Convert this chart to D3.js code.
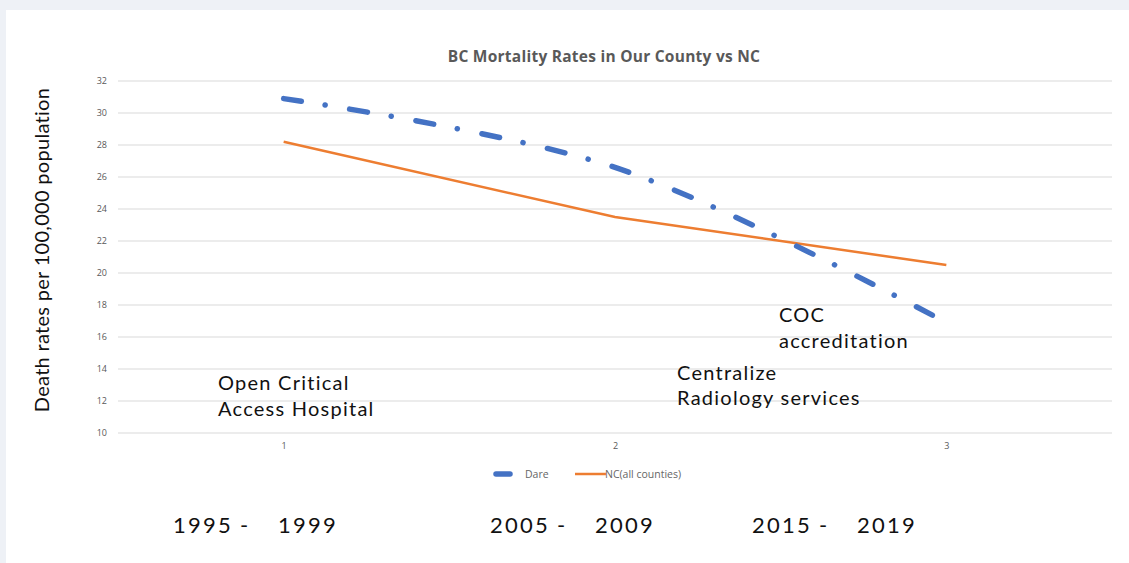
<!DOCTYPE html>
<html>
<head>
<meta charset="utf-8">
<script src="https://cdn.jsdelivr.net/npm/d3@7"></script>
<style>
  html, body { margin: 0; padding: 0; background: #eef1f6; }
  svg { display: block; }
</style>
</head>
<body>
<svg id="chart" width="1129" height="563"></svg>
<script>
// Breast cancer mortality, deaths per 100,000 population
const periods = [1, 2, 3];
const dareRates = [30.9, 26.6, 16.9];
const ncRates = [28.2, 23.5, 20.5];
const yTicks = [10, 12, 14, 16, 18, 20, 22, 24, 26, 28, 30, 32];
const periodLabels = [["1995", "1999"], ["2005", "2009"], ["2015", "2019"]];
const seriesNames = ["Dare", "NC(all counties)"];

const svg = d3.select("#chart");

// white card
svg.append("rect").attr("x", 6).attr("y", 10).attr("width", 1123).attr("height", 553).attr("fill", "#ffffff");

const x = d3.scalePoint().domain(periods).range([118, 1112]).padding(0.5);
const y = d3.scaleLinear().domain([10, 32]).range([433, 81]);

// gridlines
svg.append("g").selectAll("line").data(yTicks).join("line")
  .attr("x1", 118).attr("x2", 1112)
  .attr("y1", d => y(d)).attr("y2", d => y(d))
  .attr("stroke", "#d9d9d9").attr("stroke-width", 1);

// y axis tick labels
const yAxis = d3.axisLeft(y).tickValues(yTicks).tickSize(0).tickPadding(11);
const gy = svg.append("g").attr("transform", "translate(118,0)").call(yAxis);
gy.select(".domain").remove();
gy.selectAll("text").attr("fill", "#595959").style("font-family", "'Open Sans', sans-serif").style("font-size", "9px");

// x axis tick labels
const xAxis = d3.axisBottom(x).tickSize(0).tickPadding(10);
const gx = svg.append("g").attr("transform", "translate(0,433)").call(xAxis);
gx.select(".domain").remove();
gx.selectAll("text").attr("fill", "#595959").style("font-family", "'Open Sans', sans-serif").style("font-size", "9px");

// title
svg.append("text").attr("x", 604).attr("y", 62).attr("text-anchor", "middle")
  .attr("fill", "#595959").style("font-family", "'Open Sans', sans-serif")
  .style("font-weight", "bold").style("font-size", "15.5px")
  .style("letter-spacing", "0.25px")
  .text("BC Mortality Rates in Our County vs NC");

// y axis title
svg.append("text").attr("transform", "translate(49,250) rotate(-90)").attr("text-anchor", "middle")
  .attr("fill", "#111").style("font-family", "Lato, sans-serif").style("font-size", "20px")
  .style("letter-spacing", "0.3px")
  .text("Death rates per 100,000 population");

// series lines
const ncLine = d3.line().x((d, i) => x(periods[i])).y(d => y(d));
const dareLine = d3.line().x((d, i) => x(periods[i])).y(d => y(d)).curve(d3.curveCatmullRom.alpha(0.5));

svg.append("path").datum(ncRates).attr("d", ncLine)
  .attr("fill", "none").attr("stroke", "#ED7D31").attr("stroke-width", 2.5);

svg.append("path").datum(dareRates).attr("d", dareLine)
  .attr("fill", "none").attr("stroke", "#4472C4").attr("stroke-width", 5.5)
  .attr("stroke-linecap", "round").attr("stroke-dasharray", "18,24,0.1,25");

// annotations
const noteFont = "Lato, sans-serif";
const notes = [
  { x: 218, y: 390, t: "Open Critical" },
  { x: 218, y: 416, t: "Access Hospital" },
  { x: 677, y: 380, t: "Centralize" },
  { x: 677, y: 405, t: "Radiology services" },
  { x: 779, y: 322, t: "COC" },
  { x: 779, y: 348, t: "accreditation" }
];
svg.append("g").selectAll("text").data(notes).join("text")
  .attr("x", d => d.x).attr("y", d => d.y)
  .attr("fill", "#111").style("font-family", noteFont).style("font-size", "20px")
  .style("letter-spacing", "1.25px")
  .text(d => d.t);

// legend
const lg = svg.append("g");
lg.append("line").attr("x1", 496).attr("x2", 510).attr("y1", 474).attr("y2", 474)
  .attr("stroke", "#4472C4").attr("stroke-width", 5.5).attr("stroke-linecap", "round");
lg.append("text").attr("x", 525).attr("y", 477.5).attr("fill", "#666")
  .style("font-family", "'Open Sans', sans-serif").style("font-size", "10.5px").text(seriesNames[0]);
lg.append("line").attr("x1", 575).attr("x2", 606).attr("y1", 474).attr("y2", 474)
  .attr("stroke", "#ED7D31").attr("stroke-width", 2.5);
lg.append("text").attr("x", 605).attr("y", 477.5).attr("fill", "#666")
  .style("font-family", "'Open Sans', sans-serif").style("font-size", "10.5px").text(seriesNames[1]);

// period labels along the bottom of the card
const labelStarts = [173, 490, 752];
const pl = svg.append("g").style("font-family", noteFont).style("font-size", "22px").attr("fill", "#111");
periodLabels.forEach((p, i) => {
  const s = labelStarts[i];
  pl.append("text").attr("x", s).attr("y", 533).style("letter-spacing", "2.2px").text(p[0]);
  pl.append("text").attr("x", s + 67).attr("y", 533).text("-");
  pl.append("text").attr("x", s + 105).attr("y", 533).style("letter-spacing", "2.2px").text(p[1]);
});
</script>
</body>
</html>
